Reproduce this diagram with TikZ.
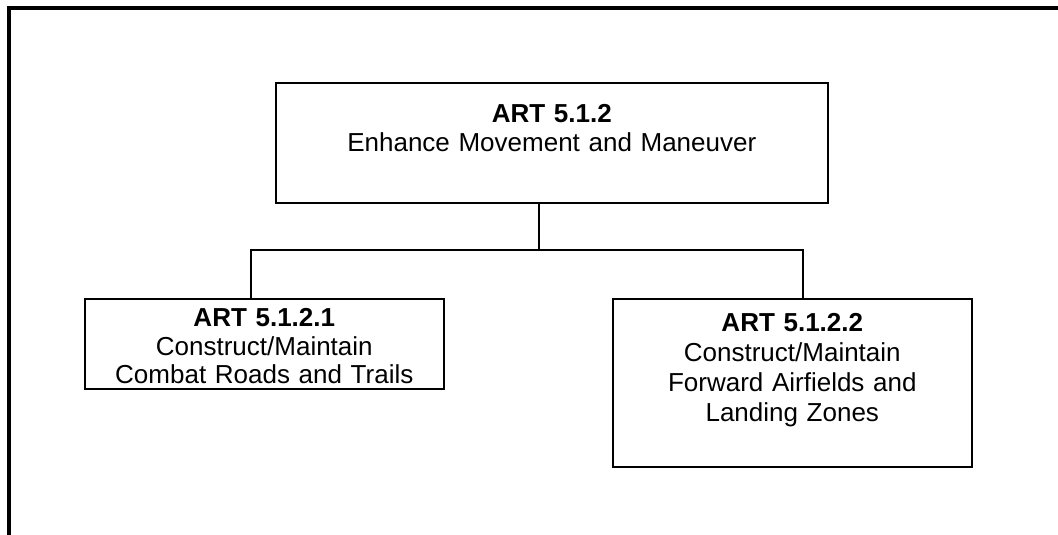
\documentclass[tikz,border=0pt]{standalone}
\usepackage{fontspec}
\setmainfont{Liberation Sans}
\usetikzlibrary{positioning}

\begin{document}
\begin{tikzpicture}[x=1pt,y=-1pt,
                    task box/.style={draw,line width=1.6pt,inner sep=0pt,align=center,
                                     font=\fontsize{26}{28.5}\selectfont},
                    link/.style={line width=1.3pt}]
  \useasboundingbox (0,0) rectangle (1058,535);
  \draw[line width=4pt] (9,535) -- (9,8) -- (1058,8);
  \node[task box,text width=552pt,text height=40pt,text depth=80pt,anchor=north west]
    (art512) at (275,82) {\textbf{ART 5.1.2}\\Enhance Movement and Maneuver};
  \node[task box,text width=359pt,text height=28pt,text depth=62pt,anchor=north west]
    (art5121) at (84,298) {\textbf{ART 5.1.2.1}\\Construct/Maintain\\Combat Roads and Trails};
  \node[task box,text width=359pt,text height=33pt,text depth=135pt,anchor=north west,
        font=\fontsize{26}{30}\selectfont]
    (art5122) at (612,298) {\textbf{ART 5.1.2.2}\\Construct/Maintain\\Forward Airfields and\\Landing Zones};
  \coordinate (fork) at (539,250);
  \coordinate (lfork) at (251,250);
  \coordinate (rfork) at (803,250);
  \draw[link] (art512.south -| fork) -- (fork);
  \draw[link] (art5121.north -| lfork) -- (lfork) -- (rfork) -- (art5122.north -| rfork);
\end{tikzpicture}
\end{document}
